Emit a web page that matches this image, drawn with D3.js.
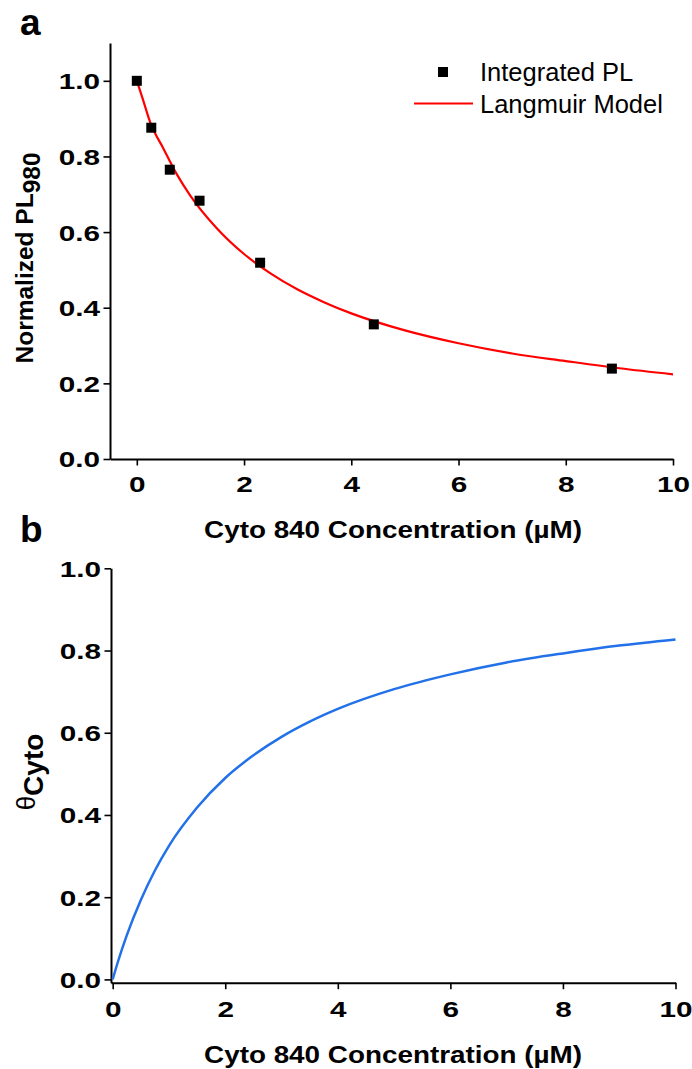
<!DOCTYPE html>
<html>
<head>
<meta charset="utf-8">
<script src="https://cdn.jsdelivr.net/npm/d3@7"></script>
<style>
  body { margin: 0; background: #fff; }
  svg { display: block; }
  text { font-family: "Liberation Sans", Arial, sans-serif; fill: #000; }
</style>
</head>
<body>
<div id="chart"></div>
<script>
// Measured data points (panel a)
const pointConc = [0, 0.27, 0.615, 1.17, 2.30, 4.42, 8.86];
const pointPL = [1.0, 0.876, 0.765, 0.683, 0.519, 0.356, 0.239];

// Curves (Langmuir fit in a, coverage in b)
const fitConc = [0, 0.1, 0.25, 0.5, 0.75, 1, 1.5, 2, 2.5, 3, 3.5, 4, 5, 6, 7, 8, 9, 10];
const fitPL = [1.0, 0.957, 0.89, 0.82, 0.752, 0.696, 0.609, 0.542, 0.49, 0.448, 0.414, 0.385, 0.34, 0.306, 0.279, 0.259, 0.240, 0.224];
const thetaCyto = [0, 0.046, 0.107, 0.193, 0.265, 0.325, 0.418, 0.49, 0.545, 0.59, 0.627, 0.658, 0.706, 0.742, 0.771, 0.793, 0.812, 0.827];

// Tick values
const xMajor = [0, 2, 4, 6, 8, 10];
const xMinor = [1, 3, 5, 7, 9];
const yMajor = [0, 0.2, 0.4, 0.6, 0.8, 1.0];
const yMinorA = [0.1, 0.3, 0.5, 0.7, 0.9, 1.1];
const yMinorB = [0.1, 0.3, 0.5, 0.7, 0.9];

const W = 692, H = 1069;
const STRETCH = 1.35;   // tick labels in the figure are wider than tall

let svg = d3.select('#chart').append('svg')
    .attr('width', W)
    .attr('height', H);

svg.append('rect').attr('width', W).attr('height', H).attr('fill', '#fff');

// Draws left + bottom axes with outward major and minor ticks
function drawAxes(x, y, xAxisY, yAxisX, yMinor, xLabelY) {
    let gx = svg.append('g').attr('transform', `translate(0,${xAxisY})`);
    gx.call(d3.axisBottom(x).tickValues(xMinor).tickSize(4).tickSizeOuter(0).tickFormat(''));
    gx.call(d3.axisBottom(x).tickValues(xMajor).tickSize(6.5).tickSizeOuter(0).tickFormat(d3.format('d')));
    gx.selectAll('text')
        .attr('y', xLabelY)
        .attr('dy', 0)
        .attr('font-size', 22)
        .attr('font-weight', 'bold')
        .attr('transform', `scale(${STRETCH},1)`)
        .attr('x', 0);

    let gy = svg.append('g').attr('transform', `translate(${yAxisX},0)`);
    gy.call(d3.axisLeft(y).tickValues(yMinor).tickSize(4).tickSizeOuter(0).tickFormat(''));
    gy.call(d3.axisLeft(y).tickValues(yMajor).tickSize(6.5).tickSizeOuter(0).tickFormat(d3.format('.1f')));
    gy.selectAll('text')
        .attr('x', -10 / STRETCH)
        .attr('dy', '0.36em')
        .attr('font-size', 22)
        .attr('font-weight', 'bold')
        .attr('transform', `scale(${STRETCH},1)`);

    svg.selectAll('.domain').attr('stroke', '#000').attr('stroke-width', 2);
    svg.selectAll('.tick line').attr('stroke', '#000').attr('stroke-width', 1.6);
}

function xTitle(cy) {
    svg.append('text')
        .attr('transform', `translate(393,${cy}) scale(1.16,1)`)
        .attr('text-anchor', 'middle')
        .attr('font-size', 24)
        .attr('font-weight', 'bold')
        .text('Cyto 840 Concentration (µM)');
}

// ---------- Panel a ----------
let xA = d3.scaleLinear().domain([-0.5, 10]).range([110, 673]);
let yA = d3.scaleLinear().domain([0, 1.1]).range([459, 43]);

drawAxes(xA, yA, 459, 110, yMinorA, 33);

let fitData = fitConc.map((c, i) => ({ c: c, v: fitPL[i] }));
svg.append('path')
    .datum(fitData)
    .attr('fill', 'none')
    .attr('stroke', '#ff0000')
    .attr('stroke-width', 2.2)
    .attr('d', d3.line().x(d => xA(d.c)).y(d => yA(d.v)).curve(d3.curveMonotoneX));

svg.append('g').selectAll('rect')
    .data(pointConc.map((c, i) => ({ c: c, v: pointPL[i] })))
    .enter()
    .append('rect')
    .attr('x', d => xA(d.c) - 5)
    .attr('y', d => yA(d.v) - 5)
    .attr('width', 10)
    .attr('height', 10)
    .attr('fill', '#000');

// legend
svg.append('rect').attr('x', 438).attr('y', 67).attr('width', 10).attr('height', 10).attr('fill', '#000');
svg.append('line').attr('x1', 414).attr('x2', 473).attr('y1', 103.5).attr('y2', 103.5)
    .attr('stroke', '#ff0000').attr('stroke-width', 2.2);
svg.append('text').attr('x', 480).attr('y', 81).attr('font-size', 25.5).text('Integrated PL');
svg.append('text').attr('x', 480).attr('y', 113).attr('font-size', 25.5).text('Langmuir Model');

// y title
let yt = svg.append('text')
    .attr('transform', 'translate(33,258) rotate(-90)')
    .attr('text-anchor', 'middle')
    .attr('font-size', 24.5)
    .attr('font-weight', 'bold');
yt.append('tspan').text('Normalized PL');
yt.append('tspan').attr('dy', 7).text('980');

xTitle(538);

svg.append('text').attr('x', 20).attr('y', 35).attr('font-size', 37).attr('font-weight', 'bold').text('a');

// ---------- Panel b ----------
let xB = d3.scaleLinear().domain([-0.03, 10]).range([111, 675.5]);
let yB = d3.scaleLinear().domain([-0.008, 1.0]).range([982.7, 568.3]);

drawAxes(xB, yB, 982.7, 111, yMinorB, 34);

svg.append('path')
    .datum(fitConc.map((c, i) => ({ c: c, v: thetaCyto[i] })))
    .attr('fill', 'none')
    .attr('stroke', '#2271e8')
    .attr('stroke-width', 2.5)
    .attr('d', d3.line().x(d => xB(d.c)).y(d => yB(d.v)).curve(d3.curveMonotoneX));

let yt2 = svg.append('text')
    .attr('transform', 'translate(35,772) rotate(-90)')
    .attr('text-anchor', 'middle')
    .attr('font-size', 26);
yt2.append('tspan').text('θ');
yt2.append('tspan').attr('dy', 8).attr('font-size', 28).attr('font-weight', 'bold').text('Cyto');

xTitle(1063);

svg.append('text').attr('x', 20).attr('y', 542).attr('font-size', 37).attr('font-weight', 'bold').text('b');
</script>
</body>
</html>
